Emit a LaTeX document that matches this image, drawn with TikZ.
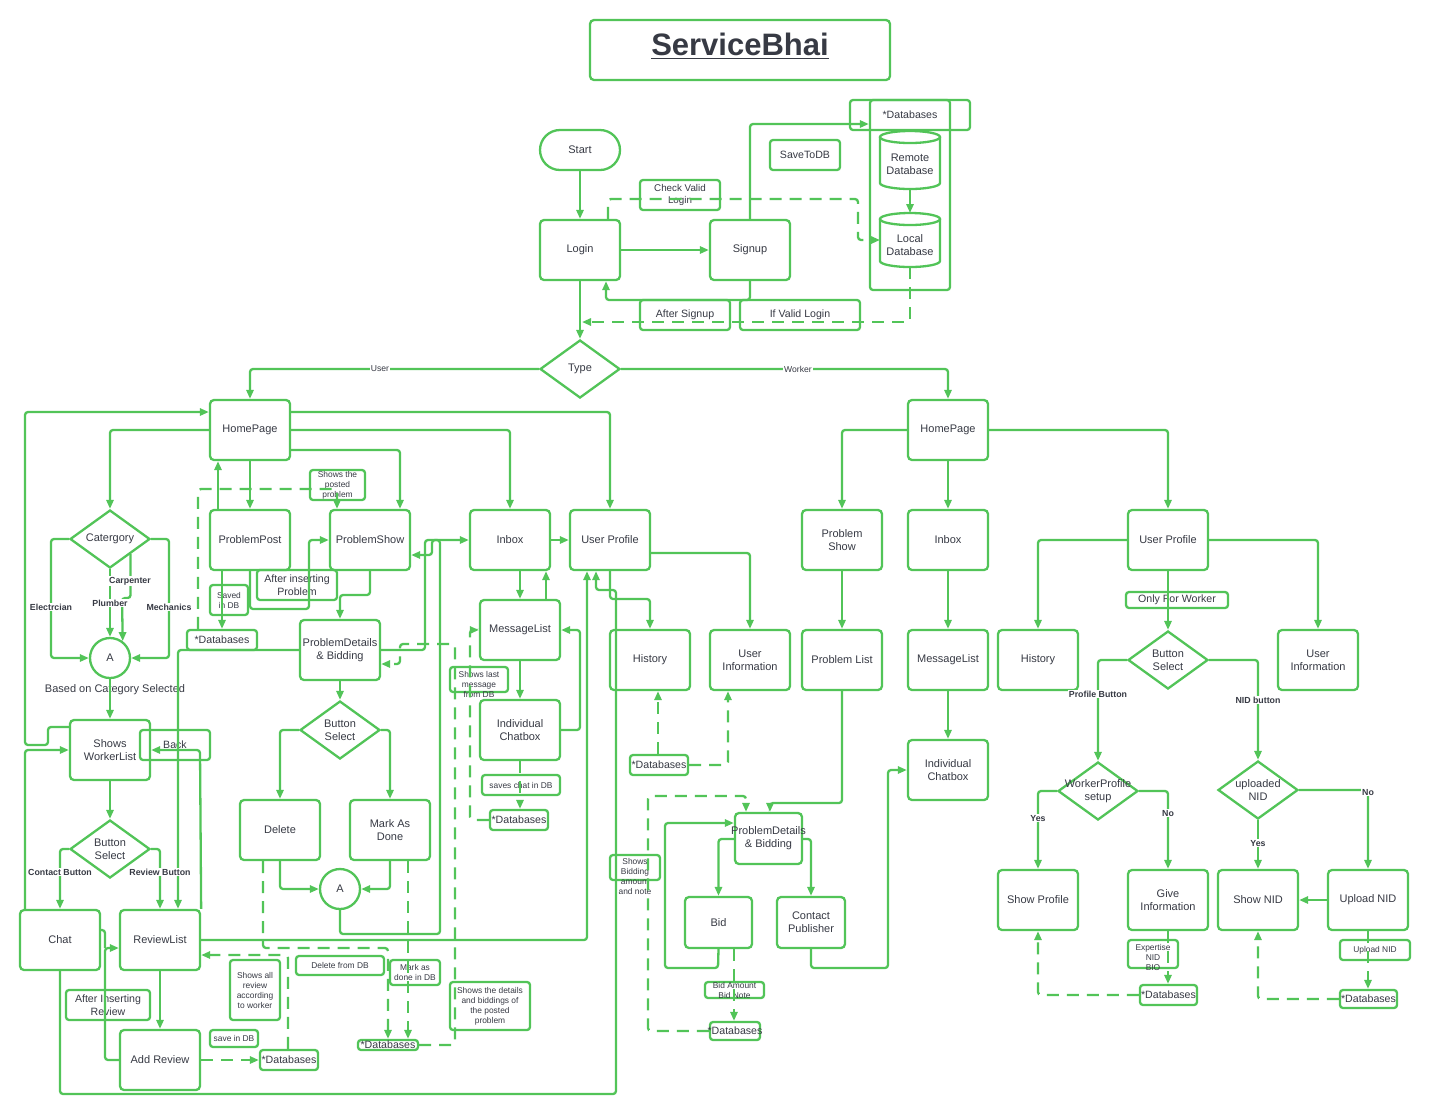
\documentclass[tikz,border=0pt]{standalone}
\usepackage{fontspec}
\setmainfont{Liberation Sans}
\usetikzlibrary{shapes.geometric,arrows.meta,fit}
\definecolor{G}{RGB}{82,196,88}
\definecolor{T}{RGB}{55,58,68}
\newcommand{\fs}[2]{\fontsize{#1}{#2}\selectfont}
% frame style, text style, name, x1,y1,x2,y2, text
\newcommand{\bx}[8]{\node[#1,fit={(#4,#5)(#6,#7)}] (#3) {}; \node[#2] (#3-t) at (#3.center) {#8};}
\begin{document}
\begin{tikzpicture}[x=0.5pt,y=-0.5pt,
  ln/.style={draw=G,line width=1.15pt,rounded corners=1.5pt},
  arr/.style={ln,-{Triangle[length=4.5pt,width=3.6pt]}},
  dsh/.style={dash pattern=on 6pt off 4pt},
  B/.style={draw=G,line width=1.15pt,rounded corners=2pt,inner sep=0pt},
  A/.style={draw=G,line width=1.15pt,rounded corners=1.5pt,inner sep=0pt},
  BT/.style={align=center,inner sep=0pt,text=T,font=\fs{5.5}{6.6}},
  AT/.style={align=center,inner sep=0pt,text=T,font=\fs{5.3}{6.3}},
  AT2/.style={align=center,inner sep=0pt,text=T,font=\fs{4.9}{6}},
  ST/.style={align=center,inner sep=0pt,text=T,font=\fs{4.2}{5}},
  TT/.style={align=center,inner sep=0pt,text=T,font=\bfseries\fs{15.5}{18},yshift=1.8pt},
  dia/.style={draw=G,line width=1.15pt,diamond,inner sep=0pt,minimum width=40pt,minimum height=29pt},
  circ/.style={draw=G,line width=1.15pt,circle,minimum size=20pt,inner sep=0pt,text=T,font=\fs{5.5}{6.6}},
  cyl/.style={draw=G,line width=1.15pt},
  elbl/.style={fill=white,inner sep=0.6pt,text=T,font=\bfseries\fs{4.4}{5}},
  nlbl/.style={fill=white,inner sep=0.6pt,text=T,font=\fs{4.3}{5}},
]
\fill[white] (0,0) rectangle (1430,1116);
\useasboundingbox (0,0) rectangle (1430,1116);

% ---------- title & top ----------
\bx{B}{TT}{title}{590}{20}{890}{80}{\underline{ServiceBhai}}
\bx{B,rounded corners=10pt}{BT}{start}{540}{130}{620}{170}{Start}
\bx{B}{BT}{login}{540}{220}{620}{280}{Login}
\bx{B}{BT}{signup}{710}{220}{790}{280}{Signup}
\bx{A}{AT}{savedb}{770}{140}{840}{170}{SaveToDB}
\bx{A}{AT2}{chkv}{640}{180}{720}{210}{Check Valid\\Login}
\bx{A}{AT}{aftsu}{640}{300}{730}{330}{After Signup}
\bx{A}{AT}{ifval}{740}{300}{860}{330}{If Valid Login}
\node[A,fit={(870,100)(950,290)}] (dbc) {};
\bx{A}{AT}{dbh}{850}{100}{970}{130}{*Databases}
% cylinders
\draw[cyl] (910,137) ellipse [x radius=15pt, y radius=3pt];
\draw[cyl] (880,137) -- (880,183) arc[start angle=180,end angle=360,x radius=15pt,y radius=3pt] -- (940,137);
\draw[cyl] (910,219) ellipse [x radius=15pt, y radius=3pt];
\draw[cyl] (880,219) -- (880,261) arc[start angle=180,end angle=360,x radius=15pt,y radius=3pt] -- (940,219);
\coordinate (rdbB) at (910,189);
\coordinate (ldbT) at (910,213);
\coordinate (ldbB) at (910,267);
\coordinate (ldbL) at (880,240);
\node[BT] (rdb) at (910,164) {Remote\\Database};
\node[BT] (ldb) at (910,245) {Local\\Database};
\node[dia] (type) at (580,369) {};
\node[BT] (type-t) at (type) {Type};

% ---------- user side ----------
\bx{B}{BT}{hpU}{210}{400}{290}{460}{HomePage}
\node[dia] (cat) at (110,539) {};
\node[BT] (cat-t) at (cat) {Catergory};
\node[circ] (aU1) at (110,658) {A};
\node[BT] (bcs) at (115,690) {Based on Category Selected};
\bx{B}{BT}{swl}{70}{720}{150}{780}{Shows\\WorkerList}
\bx{A}{AT}{back}{140}{730}{210}{760}{Back}
\node[dia] (bsU1) at (110,849) {};
\node[BT] (bsU1-t) at (bsU1) {Button\\Select};
\bx{B}{BT}{chat}{20}{910}{100}{970}{Chat}
\bx{B}{BT}{rlist}{120}{910}{200}{970}{ReviewList}
\bx{A}{AT}{airev}{66}{990}{150}{1020}{After Inserting\\Review}
\bx{B}{BT}{addrev}{120}{1030}{200}{1090}{Add Review}
\bx{A}{ST}{sarev}{230}{960}{280}{1020}{Shows all\\review\\according\\to worker}
\bx{A}{ST}{sindb}{210}{1030}{258}{1047}{save in DB}
\bx{A}{AT}{dbRev}{260}{1050}{318}{1070}{*Databases}
\bx{B}{BT}{ppost}{210}{510}{290}{570}{ProblemPost}
\bx{B}{BT}{pshow}{330}{510}{410}{570}{ProblemShow}
\bx{A}{ST}{shpp}{310}{470}{365}{500}{Shows the\\posted\\problem}
\bx{A}{AT}{ainsp}{257}{570}{337}{600}{After inserting\\Problem}
\bx{A}{ST}{svdb}{210}{585}{248}{615}{Saved\\in DB}
\bx{A}{AT}{dbPP}{187}{630}{257}{650}{*Databases}
\bx{B}{BT}{pdU}{300}{620}{380}{680}{ProblemDetails\\\& Bidding}
\node[dia] (bsU2) at (340,730) {};
\node[BT] (bsU2-t) at (bsU2) {Button\\Select};
\bx{B}{BT}{del}{240}{800}{320}{860}{Delete}
\bx{B}{BT}{mad}{350}{800}{430}{860}{Mark As\\Done}
\node[circ] (aU2) at (340,889) {A};
\bx{A}{ST}{deldb}{296}{956}{384}{975}{Delete from DB}
\bx{A}{ST}{maddb}{390}{960}{440}{985}{Mark as\\done in DB}
\bx{A}{AT}{dbDel}{358}{1040}{418}{1050}{*Databases}
\bx{A}{ST}{shdet}{450}{982}{530}{1030}{Shows the details\\and biddings of\\the posted\\problem}
\bx{B}{BT}{inboxU}{470}{510}{550}{570}{Inbox}
\bx{B}{BT}{uprofU}{570}{510}{650}{570}{User Profile}
\bx{B}{BT}{msgU}{480}{600}{560}{660}{MessageList}
\bx{A}{ST,yshift=-2.5pt}{shlast}{450}{667}{508}{692}{Shows last\\message\\from DB}
\bx{B}{BT}{icU}{480}{700}{560}{760}{Individual\\Chatbox}
\bx{A}{ST}{svchat}{482}{775}{560}{795}{saves chat in DB}
\bx{A}{AT}{dbChat}{490}{810}{548}{830}{*Databases}
\bx{B}{BT}{histU}{610}{630}{690}{690}{History}
\bx{B}{BT}{uinfoU}{710}{630}{790}{690}{User\\Information}
\bx{A}{AT}{dbProf}{630}{755}{688}{775}{*Databases}

% ---------- worker side ----------
\bx{B}{BT}{hpW}{908}{400}{988}{460}{HomePage}
\bx{B}{BT}{pshowW}{802}{510}{882}{570}{Problem\\Show}
\bx{B}{BT}{plist}{802}{630}{882}{690}{Problem List}
\bx{B}{BT}{inboxW}{908}{510}{988}{570}{Inbox}
\bx{B}{BT}{msgW}{908}{630}{988}{690}{MessageList}
\bx{B}{BT}{icW}{908}{740}{988}{800}{Individual\\Chatbox}
\bx{B}{BT}{uprofW}{1128}{510}{1208}{570}{User Profile}
\bx{A}{AT}{onlyw}{1126}{592}{1228}{608}{Only For Worker}
\bx{B}{BT}{histW}{998}{630}{1078}{690}{History}
\node[dia] (bsW) at (1168,660) {};
\node[BT] (bsW-t) at (bsW) {Button\\Select};
\bx{B}{BT}{uinfoW}{1278}{630}{1358}{690}{User\\Information}
\node[dia] (wps) at (1098,791) {};
\node[BT] (wps-t) at (wps) {WorkerProfile\\setup};
\node[dia] (upn) at (1258,790) {};
\node[BT] (upn-t) at (upn) {uploaded\\NID};
\bx{B}{BT}{sprof}{998}{870}{1078}{930}{Show Profile}
\bx{B}{BT}{ginfo}{1128}{870}{1208}{930}{Give\\Information}
\bx{B}{BT}{snid}{1218}{870}{1298}{930}{Show NID}
\bx{B}{BT}{uplnid}{1328}{870}{1408}{930}{Upload NID}
\bx{A}{ST,yshift=-1.5pt}{expn}{1128}{940}{1178}{968}{Expertise\\NID\\BIO}
\bx{A}{ST}{uplbl}{1340}{940}{1410}{960}{Upload NID}
\bx{A}{AT}{dbGi}{1140}{985}{1197}{1005}{*Databases}
\bx{A}{AT}{dbUp}{1340}{990}{1397}{1008}{*Databases}
\bx{B}{BT}{pdW}{735}{813}{802}{864}{ProblemDetails\\\& Bidding}
\bx{B}{BT}{bid}{685}{897}{752}{948}{Bid}
\bx{B}{BT}{cpub}{777}{897}{845}{948}{Contact\\Publisher}
\bx{A}{ST,yshift=-4.7pt}{shbid}{610}{855}{660}{880}{Shows\\Bidding\\amount\\and note}
\bx{A}{ST}{bidamt}{705}{982}{764}{998}{Bid Amount\\Bid Note}
\bx{A}{AT}{dbBid}{710}{1022}{760}{1040}{*Databases}

% ---------- connectors: top ----------
\draw[arr] (start.south) -- (login.north);
\draw[arr] (login.east) -- (signup.west);
\draw[arr] (signup.north) |- (dbc.west |- 0,124);
\draw[arr,dsh] (608,0 |- login.north) |- (858,199) |- (ldbL);
\draw[arr] (signup.south) |- (606,300) -- (606,0 |- login.south);
\draw[arr,dsh] (ldbB) |- (582,322);
\draw[arr] (login.south) -- (type.north);
\draw[arr] (rdbB) -- (ldbT);
\draw[arr] (type.west) -| (hpU.north);
\draw[arr] (type.east) -| (hpW.north);

% ---------- connectors: user ----------
\draw[arr] (hpU.west) -| (cat.north);
\draw[arr] (hpU.south) -- (ppost.north);
\draw[arr] (218,0 |- ppost.north) -- (218,0 |- hpU.south);
\draw[arr] (hpU.east |- 0,450) -| (400,0 |- pshow.north);
\draw[arr] (hpU.east) -| (inboxU.north);
\draw[arr] (hpU.east |- 0,412) -| (uprofU.north);

\draw[arr] (cat.west) -| (51,0 |- aU1.west) -- (aU1.west);
\draw[arr] (cat.south) -- (aU1.north);
\draw[arr] (cat.south east) |- (122,598) -- (aU1.53);
\draw[arr] (cat.east) -| (169,0 |- aU1.east) -- (aU1.east);
\draw[arr] (aU1.south) -- (swl.north);

\draw[arr] (swl.south) -- (bsU1.north);
\draw[arr] (bsU1.west) -| (chat.north);
\draw[arr] (bsU1.east) -| (rlist.north);
\draw[arr] (swl.west |- 0,727) -- (48,727) -- (48,745) -- (25,745) -- (25,412) -- (hpU.west |- 0,412);
\draw[arr] (25,0 |- chat.north) -- (25,750) -- (swl.west |- 0,750);
\draw[arr] (rlist.north east) -- (200,750) -- (swl.east |- 0,750);
\draw[arr] (pdU.west) -| (178,0 |- rlist.north);
\draw[arr] (rlist.east) -| (587,0 |- uprofU.south);
\draw[arr] (chat.south) |- (616,1094) -- (616,590) -- (596,590) -- (596,0 |- uprofU.south);
\draw[arr] (addrev.west) -| (105,948) -- (rlist.west |- 0,948);
\draw[ln] (chat.east |- 0,930) -- (105,930) -- (105,948);
\draw[arr] (rlist.south) -- (addrev.north);
\draw[arr,dsh] (addrev.east) -- (dbRev.west);
\draw[arr,dsh] (288,0 |- dbRev.north) |- (rlist.east |- 0,955);

\draw[arr] (ppost.south) -- (250,609) -- (309,609) -- (309,0 |- pshow.west) -- (pshow.west);
\draw[arr] (222,0 |- ppost.south) -- (222,0 |- dbPP.north);
\draw[arr,dsh] (198,0 |- dbPP.north) |- (337,489) -- (337,0 |- pshow.north);
\draw[arr] (pshow.south) -- (370,595) -| (pdU.north);
\draw[arr] (pdU.east) -| (425,0 |- inboxU.west) -- (inboxU.west);
\draw[arr] (aU2.south) |- (440,934) -- (440,540) -- (432,540) -- (432,555) -- (pshow.east |- 0,555);
\draw[arr,dsh] (dbDel.east) -| (455,644) -- (400,644) -- (400,664) -- (pdU.east |- 0,664);
\draw[arr] (pdU.south) -- (bsU2.north);
\draw[arr] (bsU2.west) -| (del.north);
\draw[arr] (bsU2.east) -| (mad.north);
\draw[arr] (del.south) |- (aU2.west);
\draw[arr] (mad.south) |- (aU2.east);
\draw[arr,dsh] (263,0 |- del.south) |- (388,948) -- (388,0 |- dbDel.north);
\draw[arr,dsh] (408,0 |- mad.south) -- (408,0 |- dbDel.north);

\draw[arr] (inboxU.east) -- (uprofU.west);
\draw[arr] (520,0 |- inboxU.south) -- (msgU.north);
\draw[arr] (546,0 |- msgU.north) -- (546,0 |- inboxU.south);
\draw[arr] (msgU.south) -- (icU.north);
\draw[arr] (icU.east) -- (580,0 |- icU.east) |- (msgU.east);
\draw[arr,dsh] (icU.south) -- (520,0 |- dbChat.north);
\draw[arr,dsh] (dbChat.west) -| (470,630) -- (msgU.west);

\draw[arr] (uprofU.south) -- (610,599) -| (histU.north);
\draw[arr] (uprofU.east |- 0,553) -| (uinfoU.north);
\draw[arr,dsh] (658,0 |- dbProf.north) -- (658,0 |- histU.south);
\draw[arr,dsh] (dbProf.east) -| (728,0 |- uinfoU.south);

% ---------- connectors: worker ----------
\draw[arr] (hpW.west) -| (pshowW.north);
\draw[arr] (hpW.south) -- (inboxW.north);
\draw[arr] (hpW.east) -| (uprofW.north);
\draw[arr] (pshowW.south) -- (plist.north);
\draw[arr] (inboxW.south) -- (msgW.north);
\draw[arr] (msgW.south) -- (icW.north);
\draw[arr] (uprofW.west) -| (histW.north);
\draw[arr] (uprofW.east) -| (uinfoW.north);
\draw[arr] (uprofW.south) -- (bsW.north);
\draw[arr] (bsW.west) -| (wps.north);
\draw[arr] (bsW.east) -| (upn.north);
\draw[arr] (wps.west) -| (sprof.north);
\draw[arr] (wps.east) -| (ginfo.north);
\draw[arr] (upn.south) -- (snid.north);
\draw[arr] (upn.east) -| (uplnid.north);
\draw[arr] (uplnid.west) -- (snid.east);
\draw[arr,dsh] (ginfo.south) -- (ginfo.south |- dbGi.north);
\draw[arr,dsh] (dbGi.west) -| (sprof.south);
\draw[arr,dsh] (uplnid.south) -- (uplnid.south |- dbUp.north);
\draw[arr,dsh] (dbUp.west) -| (snid.south);

\draw[arr] (plist.south) -- (842,803) -| (770,0 |- pdW.north);
\draw[arr] (cpub.south) -- (811,968) -| (888,0 |- icW.west) -- (icW.west);
\draw[arr] (pdW.west |- 0,839) -| (bid.north);
\draw[arr] (pdW.east |- 0,839) -| (cpub.north);
\draw[arr] (bid.south) -- (718,968) -| (665,823) -- (pdW.west |- 0,823);
\draw[arr,dsh] (734,0 |- bid.south) -- (734,0 |- dbBid.north);
\draw[arr,dsh] (dbBid.west) -| (648,796) -| (746,0 |- pdW.north);

% ---------- edge labels ----------
\node[nlbl] (lU) at (380,369) {User};
\node[nlbl] (lW) at (798,369) {Worker};
\node[elbl] (lE) at (51,607) {Electrcian};
\node[elbl] (lP) at (110,603) {Plumber};
\node[elbl] (lC) at (130,581) {Carpenter};
\node[elbl] (lM) at (169,607) {Mechanics};
\node[elbl] (lCB) at (60,872) {Contact Button};
\node[elbl] (lRB) at (160,872) {Review Button};
\node[elbl] (lPB) at (1098,694) {Profile Button};
\node[elbl] (lNB) at (1258,700) {NID button};
\node[elbl] (lY1) at (1038,818) {Yes};
\node[elbl] (lN1) at (1168,813) {No};
\node[elbl] (lY2) at (1258,843) {Yes};
\node[elbl] (lN2) at (1368,792) {No};
\end{tikzpicture}
\end{document}
